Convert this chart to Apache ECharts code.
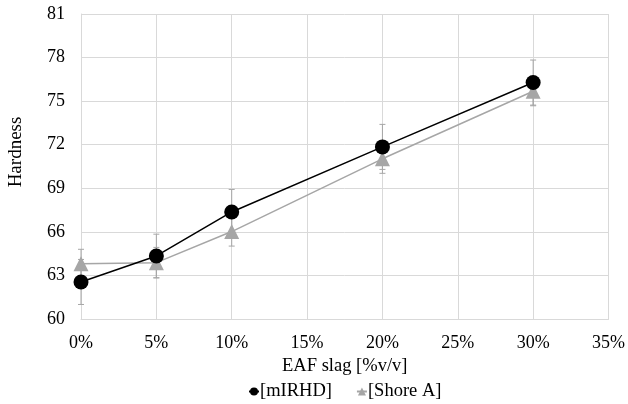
<!DOCTYPE html>
<html><head><meta charset="utf-8">
<script src="https://cdn.jsdelivr.net/npm/echarts@6/dist/echarts.min.js"></script>
<style>html,body{margin:0;padding:0;background:#fff}#c{width:628px;height:404px}</style>
</head><body><div id="c"></div>
<script>
const xValues = [0, 0.05, 0.10, 0.20, 0.30];
const mIRHD = [62.55, 64.34, 67.37, 71.85, 76.28];
const mIRHDErr = [1.55, 1.5, 1.55, 1.55, 1.55];
const shoreA = [63.8, 63.88, 66.02, 71.03, 75.68];
const shoreAErr = [1.0, 1.05, 1.0, 1.0, 1.0];
const seriesNames = ['[mIRHD]', '[Shore A]'];
const xTitle = 'EAF slag [%v/v]';
const yTitle = 'Hardness';

const font = 'Liberation Serif, Times New Roman, serif';
const chart = echarts.init(document.getElementById('c'));

function errSeries(vals, errs, color) {
  return {
    type: 'custom', silent: true, z: 1,
    data: xValues.map((x, i) => [x, vals[i] - errs[i], vals[i] + errs[i]]),
    renderItem: function (params, api) {
      const lo = api.coord([api.value(0), api.value(1)]);
      const hi = api.coord([api.value(0), api.value(2)]);
      const w = 3;
      const st = { stroke: color, lineWidth: 1 };
      return { type: 'group', children: [
        { type: 'line', shape: { x1: lo[0], y1: lo[1], x2: hi[0], y2: hi[1] }, style: st },
        { type: 'line', shape: { x1: lo[0] - w, y1: lo[1], x2: lo[0] + w, y2: lo[1] }, style: st },
        { type: 'line', shape: { x1: hi[0] - w, y1: hi[1], x2: hi[0] + w, y2: hi[1] }, style: st }
      ]};
    }
  };
}

chart.setOption({
  animation: false,
  textStyle: { fontFamily: font },
  grid: { left: 81, right: 18, top: 14, bottom: 85 },
  graphic: [{
    type: 'text', x: 16, y: 152, rotation: Math.PI / 2,
    style: { text: yTitle, fontFamily: font, fontSize: 19, fill: '#000', align: 'center', verticalAlign: 'middle' }
  }],
  legend: {
    top: 377, left: 243, itemGap: 24, itemWidth: 10, itemHeight: 10,
    textStyle: { fontFamily: font, fontSize: 18.5, color: '#000', padding: [0, 0, 0, -4] },
    data: seriesNames
  },
  xAxis: {
    type: 'value', min: 0, max: 0.35, interval: 0.05,
    name: xTitle, nameLocation: 'middle', nameGap: 36,
    nameTextStyle: { fontFamily: font, fontSize: 18.5, color: '#000' },
    axisLine: { lineStyle: { color: '#d9d9d9' } },
    axisTick: { show: false },
    axisLabel: { fontFamily: font, fontSize: 18, color: '#000', margin: 15,
      formatter: v => Math.round(v * 100) + '%' },
    splitLine: { show: true, lineStyle: { color: '#d9d9d9' } }
  },
  yAxis: {
    type: 'value', min: 60, max: 81, interval: 3,
    axisLine: { show: true, lineStyle: { color: '#d9d9d9' } },
    axisTick: { show: false },
    axisLabel: { fontFamily: font, fontSize: 18, color: '#000', margin: 16 },
    splitLine: { show: true, lineStyle: { color: '#d9d9d9' } }
  },
  series: [
    errSeries(mIRHD, mIRHDErr, '#a6a6a6'),
    errSeries(shoreA, shoreAErr, '#a6a6a6'),
    {
      name: seriesNames[0], type: 'line', z: 3,
      data: xValues.map((x, i) => [x, mIRHD[i]]),
      symbol: 'circle', symbolSize: 15,
      lineStyle: { color: '#000', width: 1.5 },
      itemStyle: { color: '#000' }
    },
    {
      name: seriesNames[1], type: 'line', z: 2,
      data: xValues.map((x, i) => [x, shoreA[i]]),
      symbol: 'triangle', symbolSize: 15,
      lineStyle: { color: '#a6a6a6', width: 1.5 },
      itemStyle: { color: '#a6a6a6' }
    }
  ]
});
</script></body></html>
